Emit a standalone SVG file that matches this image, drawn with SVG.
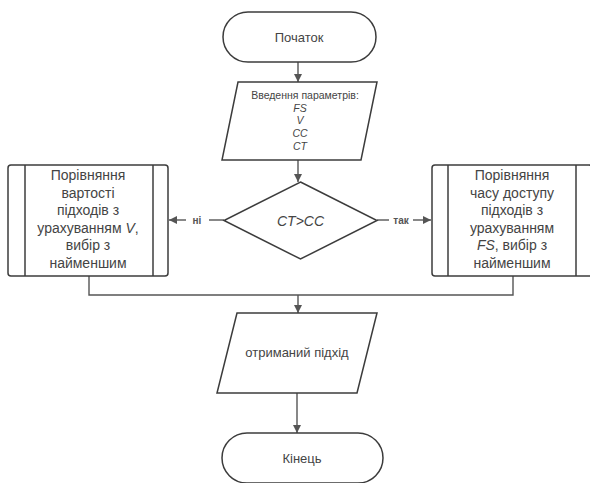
<svg xmlns="http://www.w3.org/2000/svg" width="590" height="483" viewBox="0 0 590 483">
<style>
.s{fill:#fff;stroke:#3c3c3c;stroke-width:1.5}
.c{fill:none;stroke:#555;stroke-width:1.4}
text{font-family:"Liberation Sans",Arial,sans-serif;fill:#444;text-anchor:middle}
.t13{font-size:13px}
.t14{font-size:14px}
.t11{font-size:10.5px}
.lb{font-size:10px;font-weight:bold;fill:#555}
.i{font-style:italic}
</style>
<defs>
<marker id="ah" viewBox="0 0 10 10" refX="10" refY="5" markerWidth="8" markerHeight="8" markerUnits="userSpaceOnUse" orient="auto">
<path d="M0,0 L10,5 L0,10 z" fill="#555"/>
</marker>
</defs>
<rect width="590" height="483" fill="#fff"/>
<g id="connectors">
<line class="c" x1="298" y1="62" x2="298" y2="82" marker-end="url(#ah)"/>
<line class="c" x1="298" y1="160" x2="298" y2="182" marker-end="url(#ah)"/>
<line class="c" x1="224" y1="220" x2="209" y2="220"/>
<line class="c" x1="186" y1="220" x2="169" y2="220" marker-end="url(#ah)"/>
<text class="lb" x="197" y="223.5">ні</text>
<line class="c" x1="377" y1="220" x2="389" y2="220"/>
<line class="c" x1="413" y1="220" x2="431" y2="220" marker-end="url(#ah)"/>
<text class="lb" x="401" y="223.5">так</text>
<polyline class="c" points="89,276 89,295 513,295 513,276"/>
<line class="c" x1="298" y1="295" x2="298" y2="313" marker-end="url(#ah)"/>
<line class="c" x1="297" y1="393" x2="297" y2="433" marker-end="url(#ah)"/>
</g>
<g id="start">
<rect class="s" x="223" y="12" width="153" height="50" rx="25"/>
<text class="t13" x="299" y="41.5">Початок</text>
</g>
<g id="input">
<polygon class="s" points="238,82 377,82 361,160 222,160"/>
<text class="t11" x="305" y="99">Введення параметрів:</text>
<text class="t11 i" x="300" y="111.5">FS</text>
<text class="t11 i" x="300" y="124">V</text>
<text class="t11 i" x="300" y="137">CC</text>
<text class="t11 i" x="300" y="150">CT</text>
</g>
<g id="decision">
<polygon class="s" points="300.5,182 377,220.5 300.5,259 224,220.5"/>
<text class="t14 i" x="300.5" y="225.5">CT&gt;CC</text>
</g>
<g id="left">
<rect class="s" x="8" y="165" width="160" height="111" rx="3"/>
<line class="s" x1="25" y1="165" x2="25" y2="276"/>
<line class="s" x1="153" y1="165" x2="153" y2="276"/>
<text class="t14" x="88" y="180">Порівняння</text>
<text class="t14" x="88" y="197.6">вартості</text>
<text class="t14" x="88" y="215.2">підходів з</text>
<text class="t14" x="88" y="232.8">урахуванням <tspan class="i">V</tspan>,</text>
<text class="t14" x="88" y="250.4">вибір з</text>
<text class="t14" x="88" y="268">найменшим</text>
</g>
<g id="right">
<rect class="s" x="432" y="165" width="160" height="111" rx="3"/>
<line class="s" x1="448" y1="165" x2="448" y2="276"/>
<line class="s" x1="576" y1="165" x2="576" y2="276"/>
<text class="t14" x="512" y="180">Порівняння</text>
<text class="t14" x="512" y="197.6">часу доступу</text>
<text class="t14" x="512" y="215.2">підходів з</text>
<text class="t14" x="512" y="232.8">урахуванням</text>
<text class="t14" x="512" y="250.4"><tspan class="i">FS</tspan>, вибір з</text>
<text class="t14" x="512" y="268">найменшим</text>
</g>
<g id="output">
<polygon class="s" points="237,313 377,313 357,393 217,393"/>
<text class="t13" x="297" y="357">отриманий підхід</text>
</g>
<g id="end">
<rect class="s" x="222" y="433" width="161" height="50" rx="25"/>
<text class="t13" x="302" y="463">Кінець</text>
</g>
</svg>
